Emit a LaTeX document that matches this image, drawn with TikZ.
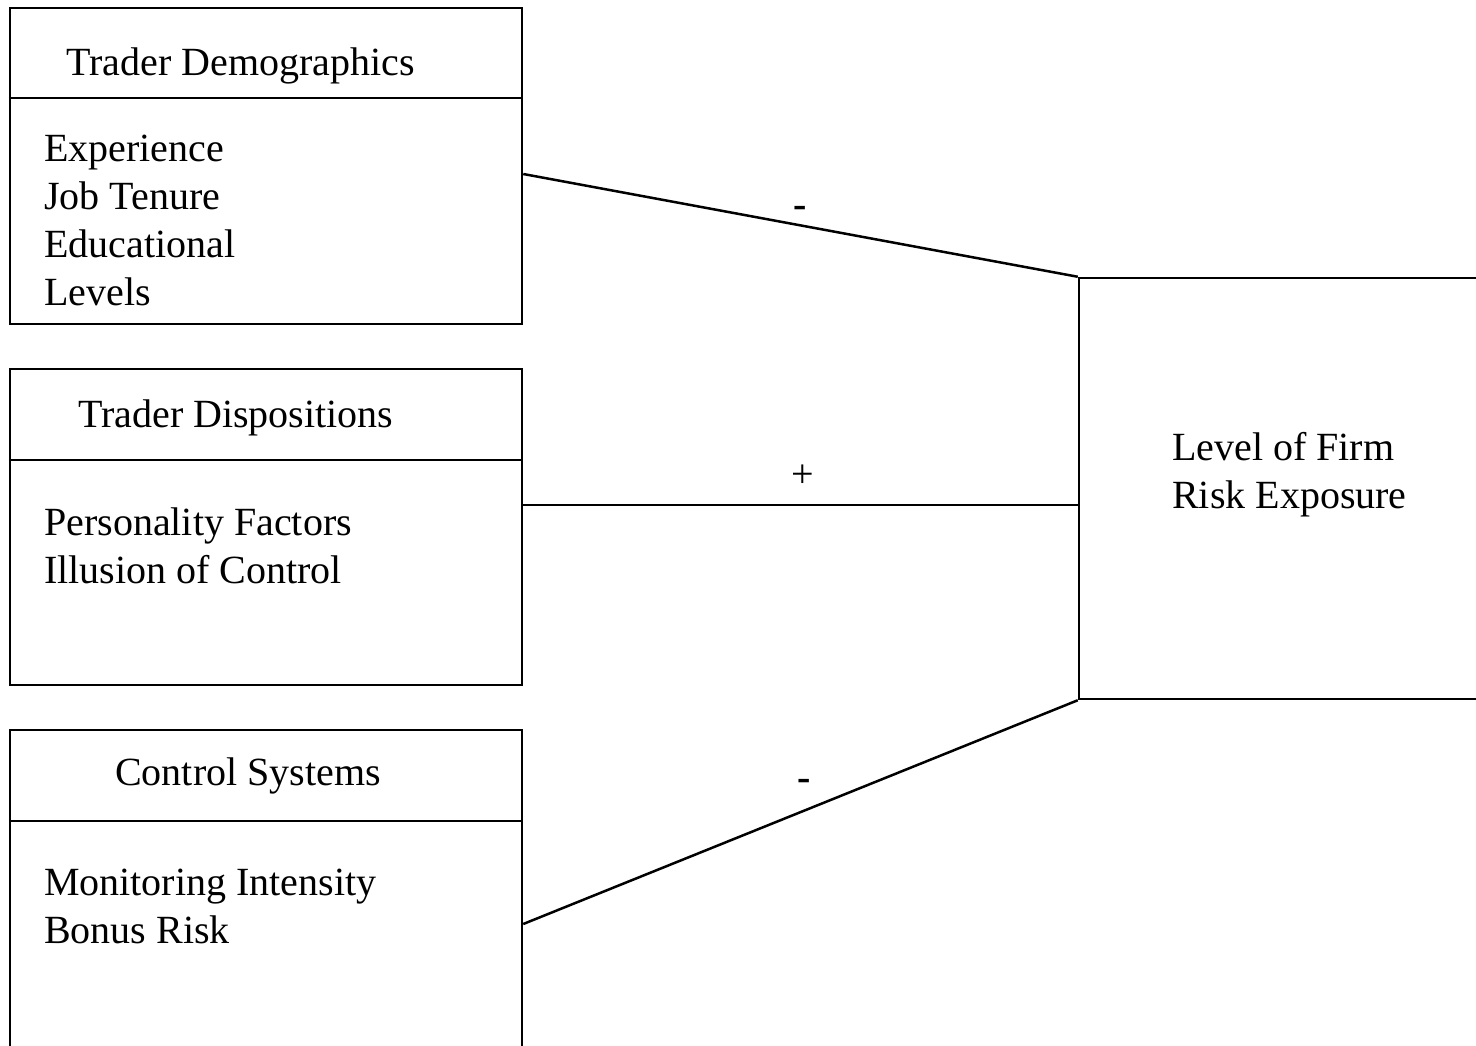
\documentclass[tikz,border=0pt]{standalone}
\usepackage{fontspec}
\setmainfont{Liberation Serif}
\usetikzlibrary{positioning}

\tikzset{
  factor/.style = {draw, line width=2.5, minimum width=512, minimum height=316, inner sep=0},
  outcome/.style = {draw, line width=2.5, minimum width=440, minimum height=421, inner sep=0},
  txt/.style = {anchor=base west, inner sep=0, align=left, font=\fontsize{40}{47.8}\selectfont},
  sign/.style = {inner sep=0, font=\fontsize{40}{47.8}\selectfont}
}

\begin{document}
\begin{tikzpicture}[x=1pt, y=-1pt]
\useasboundingbox (0,0) rectangle (1476,1045);
\clip (0,0) rectangle (1476,1045);
% factor boxes on the left
\node[factor] (demo) at (266, 166) {};
\node[factor] (disp) at (266, 527) {};
\node[factor, minimum height=324] (ctrl) at (266, 892) {};
\draw[line width=2.5] (demo.west |- 0,98) -- (demo.east |- 0,98);
\draw[line width=2.5] (disp.west |- 0,460) -- (disp.east |- 0,460);
\draw[line width=2.5] (ctrl.west |- 0,821) -- (ctrl.east |- 0,821);
% outcome box on the right
\node[outcome] (risk) at (1299, 488.5) {};
% texts (base = last line)
\node[txt] (demohead) at (66, 75) {Trader Demographics};
\node[txt] (demolist) at (44, 305) {Experience\\Job Tenure\\Educational\\Levels};
\node[txt] (disphead) at (78, 427) {Trader Dispositions};
\node[txt] (displist) at (44, 583) {Personality Factors\\Illusion of Control};
\node[txt] (ctrlhead) at (115, 785) {Control Systems};
\node[txt] (ctrllist) at (44, 943) {Monitoring Intensity\\Bonus Risk};
\node[txt] (risktext) at (1172, 508) {Level of Firm\\Risk Exposure};
% connectors
\draw[line width=2.5] ([yshift=-8]demo.east) -- (risk.north west);
\draw[line width=2.5] ([yshift=22]disp.east) -- ([yshift=22]disp.east -| risk.west);
\draw[line width=2.5] ([yshift=-32]ctrl.east) -- (risk.south west);
% signs
\node[sign] (minusa) at (800, 212) {\textbf{-}};
\node[sign] (plus) at (803, 476) {+};
\node[sign] (minusb) at (804, 785) {\textbf{-}};
\end{tikzpicture}
\end{document}
